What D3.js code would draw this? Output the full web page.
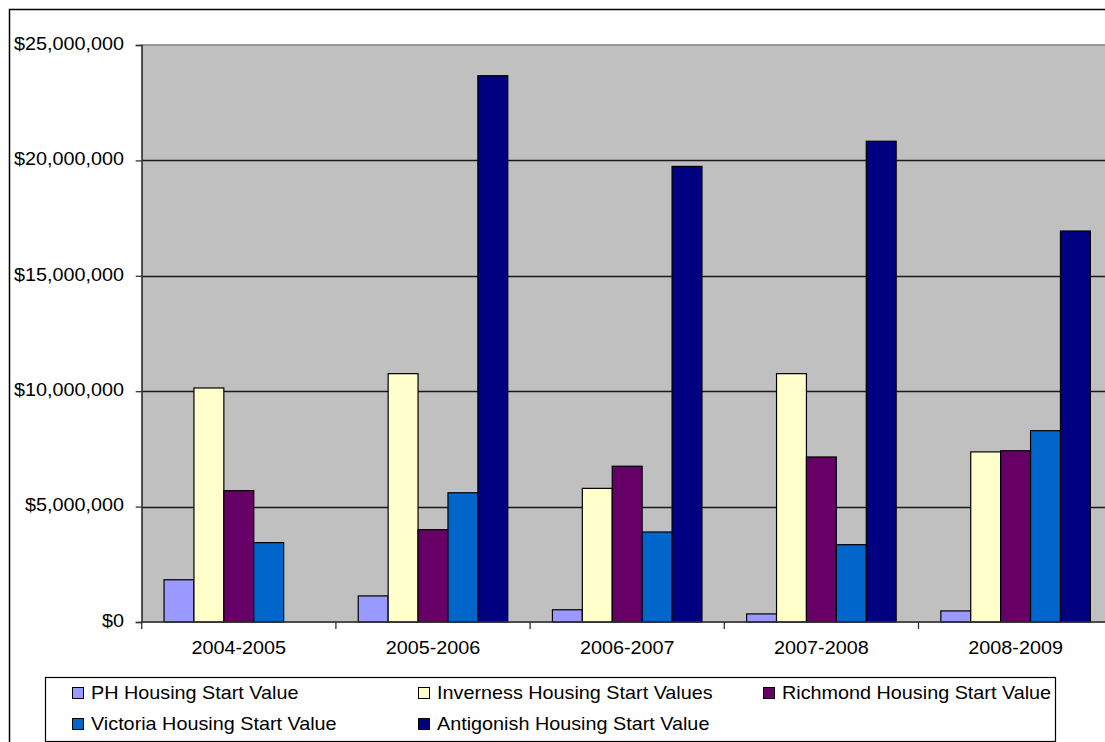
<!DOCTYPE html>
<html>
<head>
<meta charset="utf-8">
<script src="https://cdn.jsdelivr.net/npm/d3@7"></script>
<style>
  html, body { margin: 0; padding: 0; background: #fff; }
  svg { display: block; }
  text { font-family: "Liberation Sans", Arial, sans-serif; fill: #000; }
</style>
</head>
<body>
<svg id="chart" width="1105" height="742"></svg>
<script>
const categories = ["2004-2005", "2005-2006", "2006-2007", "2007-2008", "2008-2009"];
const seriesNames = [
  "PH Housing Start Value",
  "Inverness Housing Start Values",
  "Richmond Housing Start Value",
  "Victoria Housing Start Value",
  "Antigonish Housing Start Value"
];
const seriesColors = ["#9999ff", "#ffffcc", "#660066", "#0066cc", "#000080"];
const phValues        = [1830000, 1130000, 530000, 350000, 480000];
const invernessValues = [10140000, 10760000, 5790000, 10760000, 7370000];
const richmondValues  = [5690000, 4000000, 6750000, 7150000, 7420000];
const victoriaValues  = [3440000, 5600000, 3900000, 3350000, 8290000];
const antigonishValues= [0, 23670000, 19740000, 20830000, 16940000];
const yTicks = [0, 5000000, 10000000, 15000000, 20000000, 25000000];

const seriesValues = [phValues, invernessValues, richmondValues, victoriaValues, antigonishValues];

(function () {
const svg = d3.select("#chart");
const FS = 18, SX = 1.1;

function label(parent, x, y, str, anchor, baseline) {
  const g = parent.append("g").attr("transform", `translate(${x},${y}) scale(${SX},1)`);
  g.append("text")
    .attr("text-anchor", anchor || "start")
    .attr("dominant-baseline", baseline || "middle")
    .attr("font-size", FS)
    .text(str);
  return g;
}

// outer chart border
svg.append("rect").attr("x", 9.5).attr("y", 9.5).attr("width", 1200).attr("height", 800)
  .attr("fill", "#fff").attr("stroke", "#000").attr("stroke-width", 1.5);

const pLeft = 141.7, pRight = 1112.7, pTop = 45, pBottom = 622;

const x0 = d3.scaleBand().domain(categories).range([pLeft, pRight]).padding(0);
const bw = x0.bandwidth();
const x1 = d3.scaleBand().domain(seriesNames).range([bw * 0.115, bw * 0.885]).padding(0);
const y = d3.scaleLinear().domain([0, 25000000]).range([pBottom, pTop]);

// plot area
svg.append("rect").attr("x", pLeft).attr("y", pTop).attr("width", pRight - pLeft).attr("height", pBottom - pTop)
  .attr("fill", "#c0c0c0").attr("stroke", "#808080").attr("stroke-width", 1.5);

// gridlines
svg.append("g").selectAll("line").data(yTicks.filter(d => d > 0 && d < 25000000)).join("line")
  .attr("x1", pLeft).attr("x2", pRight)
  .attr("y1", d => Math.round(y(d)) + 0.5).attr("y2", d => Math.round(y(d)) + 0.5)
  .attr("stroke", "#1a1a1a").attr("stroke-width", 1.3);

// bars
const groups = svg.append("g").selectAll("g").data(categories).join("g")
  .attr("transform", d => `translate(${x0(d)},0)`);
groups.selectAll("rect")
  .data((c, i) => seriesNames.map((s, k) => ({ s, k, v: seriesValues[k][i] })).filter(d => d.v > 0))
  .join("rect")
  .attr("x", d => x1(d.s))
  .attr("width", x1.bandwidth())
  .attr("y", d => y(d.v))
  .attr("height", d => y(0) - y(d.v))
  .attr("fill", d => seriesColors[d.k])
  .attr("stroke", "#000").attr("stroke-width", 1.2);

// y axis
const yAxis = d3.axisLeft(y).tickValues(yTicks).tickSize(6).tickFormat("");
const yg = svg.append("g").attr("transform", `translate(${pLeft},0)`).call(yAxis);
yg.select(".domain").attr("stroke", "#333").attr("stroke-width", 1.3);
yg.selectAll(".tick line").attr("stroke", "#333").attr("stroke-width", 1.3);
const fmt = d => "$" + d3.format(",")(d);
yTicks.forEach(t => label(svg, 124, y(t), fmt(t), "end", "middle"));

// x axis
svg.append("line").attr("x1", pLeft).attr("x2", pRight).attr("y1", pBottom).attr("y2", pBottom)
  .attr("stroke", "#333").attr("stroke-width", 1.3);
const bounds = categories.map(c => x0(c)).concat([pRight]);
svg.append("g").selectAll("line").data(bounds).join("line")
  .attr("x1", d => d).attr("x2", d => d).attr("y1", pBottom).attr("y2", pBottom + 7)
  .attr("stroke", "#333").attr("stroke-width", 1.3);
categories.forEach(c => label(svg, x0(c) + bw / 2, 649, c, "middle", "middle"));

// legend
svg.append("rect").attr("x", 45.5).attr("y", 677.5).attr("width", 1010).attr("height", 64)
  .attr("fill", "#fff").attr("stroke", "#000").attr("stroke-width", 1.2);
const legendPos = [[72, 693], [418, 693], [763, 693], [72, 724], [418, 724]];
seriesNames.forEach((s, k) => {
  const [lx, ly] = legendPos[k];
  svg.append("rect").attr("x", lx + 0.5).attr("y", ly - 5.5).attr("width", 11).attr("height", 11)
    .attr("fill", seriesColors[k]).attr("stroke", "#000").attr("stroke-width", 1);
  label(svg, lx + 19, ly + 1, s, "start", "middle");
});
})();
</script>
</body>
</html>
